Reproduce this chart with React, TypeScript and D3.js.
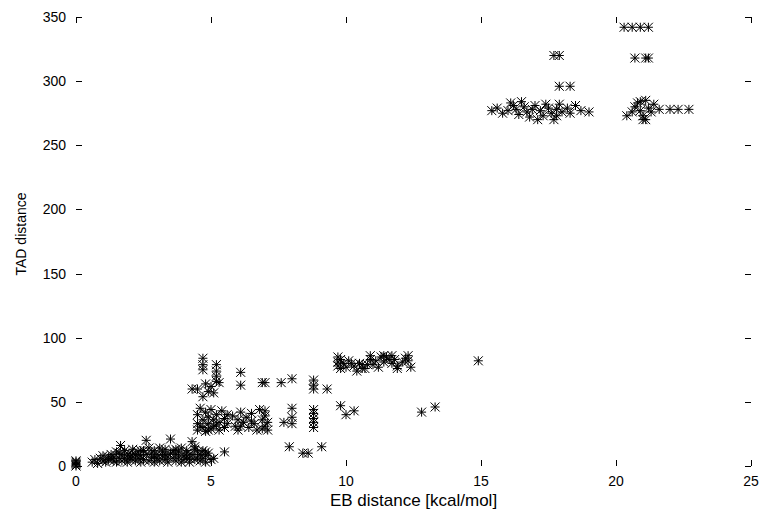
import React, { useRef, useEffect } from "react";
import * as d3 from "d3";

// EB distance [kcal/mol] vs TAD distance, grouped roughly by cluster
const zeroPoints: [number, number][] = [
  [0, 0], [0, 1], [0, 2], [0, 3], [0, 4],
];

const lowBand: [number, number][] = [
  [0.6, 3], [0.7, 5], [0.8, 2], [0.9, 6], [1.0, 4], [1.0, 8], [1.1, 3], [1.2, 7], [1.2, 5], [1.3, 9],
  [1.4, 4], [1.4, 7], [1.5, 11], [1.5, 3], [1.6, 6], [1.65, 16], [1.7, 9], [1.7, 4], [1.8, 12], [1.8, 6],
  [1.9, 3], [1.9, 8], [2.0, 10], [2.0, 5], [2.1, 7], [2.1, 13], [2.2, 4], [2.2, 9], [2.3, 6], [2.3, 11],
  [2.4, 3], [2.4, 8], [2.5, 12], [2.5, 5], [2.6, 20], [2.6, 9], [2.7, 4], [2.7, 14], [2.8, 7], [2.8, 10],
  [2.9, 3], [2.9, 12], [3.0, 6], [3.0, 9], [3.1, 14], [3.1, 4], [3.2, 8], [3.2, 11], [3.3, 5], [3.3, 13],
  [3.4, 7], [3.4, 3], [3.5, 21], [3.5, 10], [3.6, 6], [3.6, 12], [3.7, 4], [3.7, 9], [3.8, 11], [3.8, 7],
  [3.9, 3], [3.9, 14], [4.0, 8], [4.0, 5], [4.1, 12], [4.1, 10], [4.2, 6], [4.2, 3], [4.3, 19], [4.3, 9],
  [4.4, 13], [4.4, 5], [4.5, 7], [4.5, 11], [4.6, 4], [4.6, 9], [4.7, 12], [4.7, 6], [4.8, 3], [4.8, 8],
  [4.9, 10], [5.0, 5], [5.1, 6], [5.5, 11],
  [1.3, 6], [1.6, 10], [2.0, 7], [2.4, 12], [2.9, 7], [3.3, 9], [3.7, 13], [4.1, 7], [4.4, 15], [4.8, 11],
];

const midLow: [number, number][] = [
  [4.5, 28], [4.5, 33], [4.5, 40], [4.6, 45], [4.7, 30], [4.7, 36], [4.8, 27], [4.8, 42], [4.9, 33], [4.9, 38],
  [5.0, 29], [5.0, 44], [5.1, 31], [5.1, 36], [5.2, 40], [5.3, 28], [5.3, 34], [5.4, 43], [5.5, 30], [5.5, 37],
  [5.6, 33], [5.8, 39], [5.9, 31], [6.0, 36], [6.0, 28], [6.1, 42], [6.2, 34], [6.3, 38], [6.4, 30], [6.5, 41],
  [6.6, 33], [6.7, 28], [6.8, 44], [6.9, 36], [7.0, 31], [7.0, 39], [7.1, 28], [7.1, 34],
  [4.6, 31], [4.9, 28], [5.2, 32], [5.6, 40], [6.1, 31], [6.5, 35], [6.9, 29], [7.0, 43],
];

const midUpper: [number, number][] = [
  [4.3, 60], [4.5, 60], [4.7, 84], [4.7, 79], [4.7, 75], [4.7, 54], [4.8, 64], [4.9, 58], [5.0, 62], [5.1, 57],
  [5.2, 79], [5.2, 74], [5.2, 70], [5.2, 66], [5.3, 65], [6.1, 73], [6.1, 63], [6.9, 65], [7.0, 65], [7.6, 65],
  [8.0, 68], [8.8, 67], [8.8, 63], [8.8, 60], [9.3, 60],
];

const midRight: [number, number][] = [
  [7.7, 34], [8.0, 33], [8.0, 38], [8.0, 45], [8.8, 30], [8.8, 34], [8.8, 37], [8.8, 41], [8.8, 44],
  [9.8, 47], [10.0, 40], [10.3, 43], [12.8, 42], [13.3, 46],
  [7.9, 15], [8.4, 10], [8.6, 10], [9.1, 15],
];

const band80: [number, number][] = [
  [9.7, 85], [9.7, 81], [9.7, 78], [9.8, 83], [9.9, 80], [10.0, 77], [10.1, 82], [10.3, 78], [10.4, 74], [10.5, 80],
  [10.6, 76], [10.7, 76], [10.8, 79], [10.9, 86], [10.9, 83], [11.0, 79], [11.2, 77], [11.3, 85], [11.4, 86], [11.4, 81],
  [11.5, 85], [11.6, 83], [11.7, 86], [11.7, 80], [11.9, 76], [11.9, 78], [12.1, 81], [12.2, 84], [12.3, 86], [12.3, 82],
  [12.4, 77], [14.9, 82],
  [9.8, 76], [10.2, 80], [10.6, 79], [11.1, 82], [11.8, 83],
];

const topMain: [number, number][] = [
  [15.4, 277], [15.6, 279], [15.8, 275], [16.0, 277], [16.1, 283], [16.2, 281], [16.3, 278], [16.4, 274], [16.5, 284], [16.6, 280],
  [16.7, 276], [16.8, 272], [16.9, 278], [17.0, 281], [17.1, 270], [17.2, 277], [17.3, 273], [17.4, 282], [17.5, 279], [17.6, 275],
  [17.7, 270], [17.8, 278], [17.8, 273], [17.9, 282], [18.0, 276], [18.2, 279], [18.3, 275], [18.5, 281], [18.7, 277], [19.0, 276],
  [17.7, 320], [17.9, 320], [17.9, 296], [18.3, 296],
];

const topRight: [number, number][] = [
  [20.4, 273], [20.6, 276], [20.7, 280], [20.8, 283], [20.9, 277], [20.9, 284], [21.0, 273], [21.0, 270], [21.1, 285], [21.1, 270],
  [21.2, 279], [21.3, 276], [21.4, 282], [21.6, 278], [22.0, 278], [22.3, 278], [22.7, 278],
  [20.3, 342], [20.6, 342], [20.9, 342], [21.2, 342], [20.7, 318], [21.1, 318], [21.2, 318],
];

const xTicks = [0, 5, 10, 15, 20, 25];
const yTicks = [0, 50, 100, 150, 200, 250, 300, 350];

function ScatterChart() {
  const svgRef = useRef<SVGSVGElement>(null);

  useEffect(() => {
    const width = 762,
      height = 515;
    const left = 76, right = 751, top = 17, bottom = 466;
    const tick = 6;
    const font = "'Liberation Sans', Arial, sans-serif";

    const data = [...zeroPoints, ...lowBand, ...midLow, ...midUpper, ...midRight, ...band80, ...topMain, ...topRight];

    const xScale = d3.scaleLinear().domain([0, 25]).range([left, right]);
    const yScale = d3.scaleLinear().domain([0, 350]).range([bottom, top]);

    const svg = d3.select(svgRef.current);
    svg.selectAll("*").remove();
    svg.attr("width", width).attr("height", height);

    svg.append("rect").attr("width", width).attr("height", height).attr("fill", "white");

    // mirrored inward ticks, no frame
    const ticks = svg.append("g").attr("stroke", "#000").attr("stroke-width", 1);
    xTicks.forEach(t => {
      const x = Math.round(xScale(t)) + 0.5;
      ticks.append("line").attr("x1", x).attr("x2", x).attr("y1", bottom).attr("y2", bottom - tick);
      ticks.append("line").attr("x1", x).attr("x2", x).attr("y1", top).attr("y2", top + tick);
    });
    yTicks.forEach(t => {
      const y = Math.round(yScale(t)) + 0.5;
      ticks.append("line").attr("x1", left).attr("x2", left + tick).attr("y1", y).attr("y2", y);
      ticks.append("line").attr("x1", right).attr("x2", right - tick).attr("y1", y).attr("y2", y);
    });

    svg.append("g")
      .selectAll("text")
      .data(xTicks)
      .join("text")
      .attr("x", d => xScale(d))
      .attr("y", bottom + 20)
      .attr("text-anchor", "middle")
      .style("font-family", font)
      .style("font-size", "14px")
      .text(d => d);

    svg.append("g")
      .selectAll("text")
      .data(yTicks)
      .join("text")
      .attr("x", left - 10)
      .attr("y", d => yScale(d))
      .attr("dy", "0.36em")
      .attr("text-anchor", "end")
      .style("font-family", font)
      .style("font-size", "14px")
      .text(d => d);

    svg.append("text")
      .attr("x", (left + right) / 2)
      .attr("y", 506)
      .attr("text-anchor", "middle")
      .style("font-family", font)
      .style("font-size", "17px")
      .text("EB distance [kcal/mol]");

    svg.append("text")
      .attr("transform", `translate(26, 234) rotate(-90)`)
      .attr("text-anchor", "middle")
      .style("font-family", font)
      .style("font-size", "14px")
      .text("TAD distance");

    // gnuplot-style asterisk markers
    const s = 4.5;
    const star = `M${-s},0L${s},0M0,${-s}L0,${s}M${-s},${-s}L${s},${s}M${-s},${s}L${s},${-s}`;
    svg.append("g")
      .selectAll("path")
      .data(data)
      .join("path")
      .attr("transform", d => `translate(${xScale(d[0])},${yScale(d[1])})`)
      .attr("d", star)
      .attr("fill", "none")
      .attr("stroke", "#000")
      .attr("stroke-width", 1);
  }, []);

  return <svg ref={svgRef} style={{ position: "absolute", left: 0, top: 0, display: "block" }}></svg>;
}

export default function App() {
  return <ScatterChart />;
}
